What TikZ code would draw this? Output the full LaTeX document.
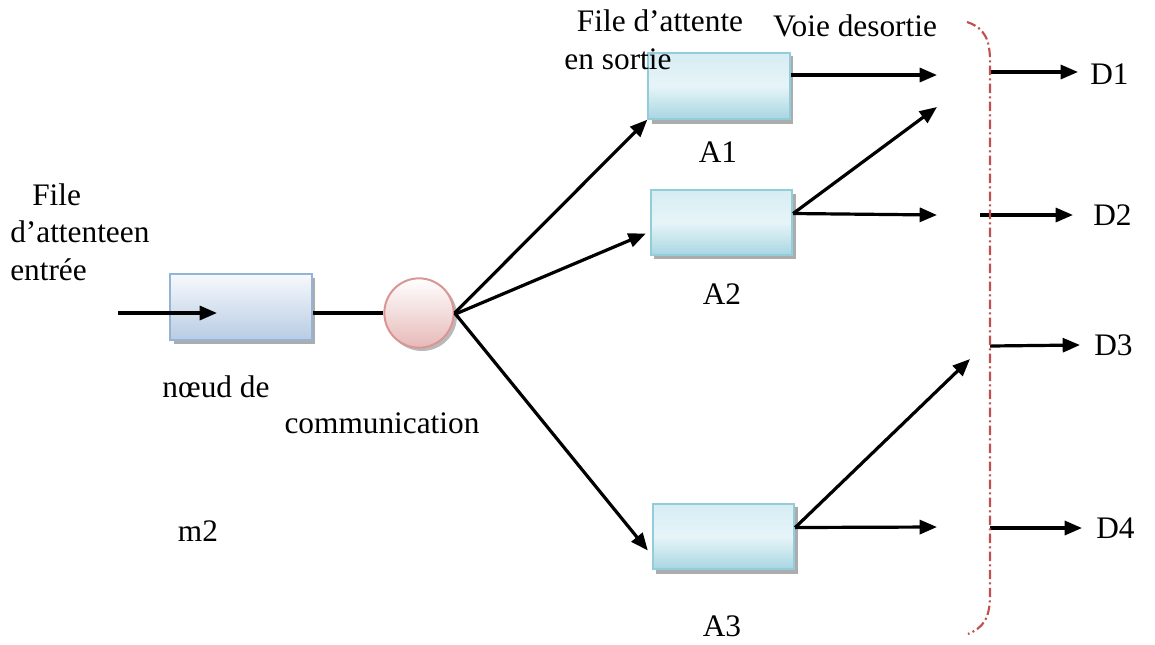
\documentclass[tikz,border=0pt]{standalone}
\usepackage{fontspec}
\setmainfont{Liberation Serif}
\usetikzlibrary{arrows.meta,calc}
\definecolor{qborder}{HTML}{95B3D7}
\definecolor{qtop}{HTML}{F7F9FC}
\definecolor{qbot}{HTML}{B8CCE4}
\definecolor{aborder}{HTML}{92CDDC}
\definecolor{atop}{HTML}{D6EDF3}
\definecolor{abot}{HTML}{A8D6E2}
\definecolor{cborder}{HTML}{D99694}
\definecolor{cbot}{HTML}{E6B9B8}
\definecolor{bracketred}{HTML}{C0504D}
\tikzset{
  lbl/.style={font=\fontsize{23.5}{28}\selectfont, inner sep=0pt},
  conn/.style={line width=2.4pt, -{Triangle[length=13pt,width=10.5pt]}},
  plain/.style={line width=2.4pt},
  inqueue/.style={draw=qborder, line width=1.5pt, top color=qtop, bottom color=qbot, minimum width=106.5pt, minimum height=49.5pt, inner sep=0pt},
  outqueue/.style={draw=aborder, line width=1.5pt, top color=atop, bottom color=abot, middle color=atop!60!white, minimum width=106pt, minimum height=49pt, inner sep=0pt},
}
\begin{document}
\begin{tikzpicture}[x=0.75pt,y=-0.75pt]
\useasboundingbox (0,0) rectangle (1155,644);
% shadows
\fill[gray!65] (174,278) rectangle (315,344);
\fill[gray!65] (652,56) rectangle (793,124);
\fill[gray!65] (654,194) rectangle (796,259);
\fill[gray!65] (656,507) rectangle (798,574);
% input queue
\node[inqueue] (q) at (241,307) {};
% communication node
\fill[gray!55] (422,316) circle (35);
\node[circle, draw=cborder, line width=1.5pt, top color=white, bottom color=cbot, minimum size=52pt, inner sep=0pt] (c) at (419,313) {};
% output queues
\node[outqueue] (a1) at (719,86) {};
\node[outqueue] (a2) at (721.5,222.5) {};
\node[outqueue] (a3) at (723.5,536.5) {};
% labels
\node[lbl, anchor=west] (tfile) at (32,195) {File};
\node[lbl, anchor=west] (tatt) at (10,232) {d’attenteen};
\node[lbl, anchor=west] (tentree) at (10,270) {entrée};
\node[lbl] (tnoeud) at (216,387) {nœud de};
\node[lbl] (tcomm) at (382,423) {communication};
\node[lbl] (tm2) at (198,531) {m2};
\node[lbl] (tfa) at (660,21) {File d’attente};
\node[lbl] (tes) at (618,59) {en sortie};
\node[lbl] (tvoie) at (855,26) {Voie desortie};
\node[lbl] (la1) at (718,152) {A1};
\node[lbl] (la2) at (722,294) {A2};
\node[lbl] (la3) at (722,626) {A3};
\node[lbl, anchor=west] (d1) at (1090,74) {D1};
\node[lbl, anchor=west] (d2) at (1093,215) {D2};
\node[lbl, anchor=west] (d3) at (1094,345) {D3};
\node[lbl, anchor=west] (d4) at (1096,528) {D4};
% coordinates
\coordinate (in) at (118,313);
\coordinate (inend) at (217,313);
\coordinate (e1) at (937,75);
\coordinate (e2) at (937,107);
\coordinate (e3) at (937,215);
\coordinate (e4) at (970,359);
\coordinate (e5) at (937,527);
\coordinate (b1) at (990,72);
\coordinate (b2) at (980,215);
\coordinate (b3) at (990,346);
\coordinate (b4) at (990,528);
% connectors
\draw[conn] (in) -- (inend);
\draw[plain] (q.east |- c.west) -- (c.west);
\draw[conn] (c.east) -- (a1.south west);
\draw[conn] ([yshift=-1pt]c.east) -- ($(a2.west)+(-4,11)$);
\draw[conn] (c.east) -- ($(a3.west)+(-4,14)$);
\draw[conn] (a1.east |- e1) -- (e1);
\draw[conn] ($(a2.east)+(0,-9)$) -- (e2);
\draw[conn] ($(a2.east)+(0,-9)$) -- (e3);
\draw[conn] ($(a3.east)+(0,-9)$) -- (e4);
\draw[conn] ($(a3.east)+(0,-9)$) -- (e5);
\draw[conn] (b1) -- ($(d1.west)+(-12,-2)$);
\draw[conn] (b2) -- ($(d2.west)+(-20,0)$);
\draw[conn] (b3) -- ($(d3.west)+(-14,0)$);
\draw[conn] (b4) -- ($(d4.west)+(-14,0)$);
% bracket
\draw[bracketred, line width=1.6pt, dash pattern=on 7pt off 2.5pt on 1.5pt off 2.5pt]
  (967,22) .. controls (985,28) and (990,40) .. (990,62)
  -- (990,595) .. controls (990,620) and (982,628) .. (968,634);
\end{tikzpicture}
\end{document}
